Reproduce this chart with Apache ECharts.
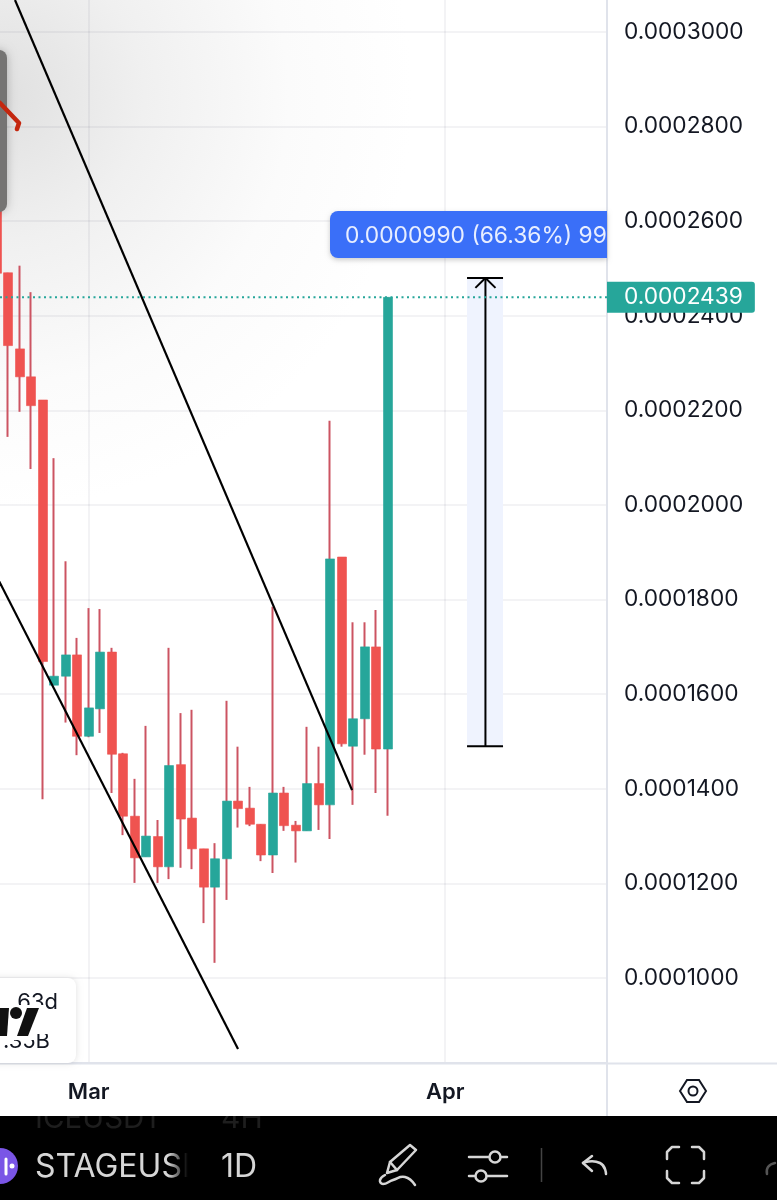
<!DOCTYPE html>
<html>
<head>
<meta charset="utf-8">
<title>STAGEUSDT 1D</title>
<script src="https://cdn.jsdelivr.net/npm/echarts@6/dist/echarts.min.js"></script>
<style>
	html,body{margin:0;padding:0;background:#fff;}
	#chart{width:777px;height:1200px;}
</style>
</head>
<body>
<div id="chart"></div>
<script>
var days = ['2025-02-21','2025-02-22','2025-02-23','2025-02-24','2025-02-25','2025-02-26','2025-02-27','2025-02-28',
	'2025-03-01','2025-03-02','2025-03-03','2025-03-04','2025-03-05','2025-03-06','2025-03-07','2025-03-08','2025-03-09',
	'2025-03-10','2025-03-11','2025-03-12','2025-03-13','2025-03-14','2025-03-15','2025-03-16','2025-03-17','2025-03-18',
	'2025-03-19','2025-03-20','2025-03-21','2025-03-22','2025-03-23','2025-03-24','2025-03-25','2025-03-26','2025-03-27'];
var opens = [0.0002750,0.0002491,0.0002330,0.0002271,0.0002222,0.0001619,0.0001638,0.0001683,0.0001511,0.0001569,0.0001689,0.0001474,
	0.0001342,0.0001256,0.0001299,0.0001235,0.0001451,0.0001338,0.0001273,0.0001192,0.0001252,0.0001374,0.0001359,0.0001325,
	0.0001260,0.0001391,0.0001323,0.0001311,0.0001411,0.0001366,0.0001890,0.0001490,0.0001548,0.0001700,0.0001484];
var closes = [0.0002490,0.0002337,0.0002271,0.0002210,0.0001669,0.0001638,0.0001683,0.0001511,0.0001571,0.0001689,0.0001473,0.0001342,
	0.0001254,0.0001300,0.0001235,0.0001449,0.0001336,0.0001273,0.0001192,0.0001252,0.0001374,0.0001358,0.0001325,0.0001260,
	0.0001391,0.0001322,0.0001311,0.0001411,0.0001366,0.0001886,0.0001495,0.0001548,0.0001700,0.0001484,0.0002439];
var highs = [0.0002800,0.0002491,0.0002506,0.0002450,0.0002222,0.0002099,0.0001881,0.0001719,0.0001782,0.0001780,0.0001698,0.0001476,
	0.0001421,0.0001533,0.0001334,0.0001698,0.0001560,0.0001567,0.0001273,0.0001285,0.0001586,0.0001489,0.0001404,0.0001325,
	0.0001785,0.0001404,0.0001332,0.0001531,0.0001489,0.0002178,0.0001890,0.0001752,0.0001752,0.0001778,0.0002439];
var lows = [0.0002470,0.0002144,0.0002197,0.0002076,0.0001378,0.0001619,0.0001540,0.0001471,0.0001509,0.0001518,0.0001391,0.0001302,
	0.0001201,0.0001256,0.0001201,0.0001209,0.0001233,0.0001230,0.0001116,0.0001032,0.0001165,0.0001318,0.0001321,0.0001247,
	0.0001222,0.0001311,0.0001244,0.0001311,0.0001313,0.0001294,0.0001489,0.0001366,0.0001472,0.0001391,0.0001343];
var priceTicks = [0.0001,0.00012,0.00014,0.00016,0.00018,0.0002,0.00022,0.00024,0.00026,0.00028,0.0003];
var monthTicks = ['2025-03-01','2025-04-01'];
var lastPrice = 0.0002439;
var upperChannel = [['2025-02-22 14:10',0.00030677],['2025-03-23 21:36',0.0001397]];
var lowerChannel = [['2025-02-21 00:00',0.0001849],['2025-03-13 23:40',0.0000850]];
var measureDays = ['2025-04-02 21:36','2025-04-04 12:00','2025-04-06 00:43'];
var measureHeadDays = ['2025-04-03 15:00','2025-04-05 09:00'];
var measurePrices = [0.0002480,0.0001490,0.0002459];

var GREEN = '#26a69a', RED = '#ef5350', WICK = '#cc5462', GRID = 'rgba(70,70,90,0.08)', AXIS = '#e0e3eb', TEXT = '#131722', ICON = '#d6d6d6';

// x axis runs in days, the time axis does not take customValues here
function ts(s){
	return (+new Date(s.replace(' ','T') + (s.length == 10 ? 'T00:00:00' : ':00')))/86400000;
}

var wickData = days.map(function(d,i){ return [ts(d),lows[i],highs[i],lows[i],highs[i]]; });
var bodyData = days.map(function(d,i){
	return [ts(d),opens[i],closes[i],Math.min(opens[i],closes[i]),Math.max(opens[i],closes[i])];
});
function toPoints(list){
	return list.map(function(p){ return [ts(p[0]),p[1]]; });
}
var L = ts(measureDays[0]), M = ts(measureDays[1]), R = ts(measureDays[2]);
var topP = measurePrices[0], baseP = measurePrices[1], headP = measurePrices[2];
var xMin = ts('2025-02-21 06:53'), xMax = ts('2025-04-15 01:41');

function bar(pts,color,width,extra){
	var o = {type:'polyline',z:20,shape:{points:pts},style:{fill:null,stroke:color,lineWidth:width,lineCap:'round',lineJoin:'round'}};
	if(extra){ o.shape.smooth = extra; }
	return o;
}
function label(x,y,text,size,color,weight,align){
	return {type:'text',z:30,x:x,y:y,style:{text:text,fill:color,font:(weight||400)+' '+size+'px Inter, sans-serif',textAlign:align||'left',textVerticalAlign:'middle'}};
}

var chart = echarts.init(document.getElementById('chart'),null,{renderer:'canvas'});
var option = {
	animation:false,
	backgroundColor:'#fff',
	grid:{
		left:0,top:0,width:607,height:1063,show:true,borderWidth:0,
		backgroundColor:new echarts.graphic.RadialGradient(0,0.09,0.68,[
			{offset:0,color:'#e0e0e0'},
			{offset:0.35,color:'#f0f0f0'},
			{offset:0.7,color:'#fbfbfb'},
			{offset:1,color:'#ffffff'}
		])
	},
	xAxis:{
		type:'value',
		min:xMin,
		max:xMax,
		axisLine:{show:true,onZero:false,lineStyle:{color:AXIS,width:2}},
		axisTick:{show:false,customValues:monthTicks.map(ts)},
		splitLine:{show:true,lineStyle:{color:GRID,width:1.5}},
		axisLabel:{
			customValues:monthTicks.map(ts),
			hideOverlap:false,showMinLabel:true,showMaxLabel:true,
			margin:18,color:TEXT,fontFamily:'Inter',fontSize:22,fontWeight:600,
			formatter:function(v){ return ['Jan','Feb','Mar','Apr'][new Date(v*86400000).getMonth()]; }
		}
	},
	yAxis:{
		type:'value',
		position:'right',
		min:0.00008202,
		max:0.00030677,
		axisLine:{show:true,onZero:false,lineStyle:{color:AXIS,width:2}},
		axisTick:{show:false,customValues:priceTicks},
		splitLine:{show:true,lineStyle:{color:GRID,width:1.5}},
		axisLabel:{
			customValues:priceTicks,
			margin:17,color:TEXT,fontFamily:'Inter',fontSize:22.7,lineHeight:28,padding:[4,0,0,0],
			formatter:function(v){ return v.toFixed(7); }
		}
	},
	series:[
		{
			name:'measure',type:'line',z:1,symbol:'none',silent:true,
			lineStyle:{color:'#000',width:2},
			data:[[L,topP],[R,topP],[M,topP],[M,baseP],[L,baseP],[R,baseP]],
			markArea:{silent:true,itemStyle:{color:'#eff3fe'},data:[[{coord:[L,topP]},{coord:[R,baseP]}]]}
		},
		{
			name:'measureHead',type:'line',z:1,symbol:'none',silent:true,
			lineStyle:{color:'#000',width:2},
			data:[[ts(measureHeadDays[0]),headP],[M,topP],[ts(measureHeadDays[1]),headP]]
		},
		{
			name:'wicks',type:'candlestick',z:2,barWidth:0.5,silent:true,encode:{x:0,y:[1,2,3,4]},
			itemStyle:{color:WICK,color0:WICK,borderColor:WICK,borderColor0:WICK,borderWidth:2},
			data:wickData
		},
		{
			name:'bodies',type:'candlestick',z:3,barWidth:9.5,silent:true,encode:{x:0,y:[1,2,3,4]},
			itemStyle:{color:GREEN,color0:RED,borderColor:GREEN,borderColor0:RED,borderWidth:0.6},
			data:bodyData
		},
		{name:'upper channel',type:'line',z:4,symbol:'none',silent:true,lineStyle:{color:'#000',width:2.2},data:toPoints(upperChannel)},
		{name:'lower channel',type:'line',z:4,symbol:'none',silent:true,lineStyle:{color:'#000',width:2.2},data:toPoints(lowerChannel)},
		{
			name:'last price',type:'line',z:5,symbol:'none',silent:true,
			lineStyle:{color:GREEN,type:[2,3.5],width:2},
			data:[[xMin,lastPrice],[xMax,lastPrice]],
			endLabel:{
				show:true,distance:0,formatter:function(){ return lastPrice.toFixed(7); },
				backgroundColor:GREEN,color:'#fff',fontFamily:'Inter',fontSize:22.7,
				padding:[5,12,3,17],borderRadius:[0,3,3,0]
			}
		}
	],
	graphic:[
		// chrome around the plot
		{type:'line',z:20,shape:{x1:0,y1:1063.5,x2:777,y2:1063.5},style:{stroke:AXIS,lineWidth:2}},
		{type:'line',z:20,shape:{x1:607,y1:1063,x2:607,y2:1116},style:{stroke:AXIS,lineWidth:2}},
		{type:'polygon',z:20,shape:{points:[[680,1091],[687,1080],[699,1080],[706,1091],[699,1102],[687,1102]]},style:{fill:null,stroke:TEXT,lineWidth:2}},
		{type:'circle',z:20,shape:{cx:693,cy:1091,r:4.5},style:{fill:null,stroke:TEXT,lineWidth:2}},
		// measure label
		{type:'rect',z:20,shape:{x:330,y:211,width:277,height:47,r:[8,0,0,8]},style:{fill:'#3a6ff8',shadowBlur:5,shadowColor:'rgba(0,0,0,0.2)',shadowOffsetY:2}},
		label(345,236,'0.0000990 (66.36%) 99',22.8,'#e8eeff'),
		// sticker top left
		{type:'rect',z:20,shape:{x:-20,y:50,width:27,height:162,r:8},style:{fill:'#757473',shadowBlur:10,shadowColor:'rgba(0,0,0,0.25)'}},
		bar([[0,103],[19,123],[17,129]],'#c4270f',4.5),
		// card bottom left
		{type:'rect',z:20,shape:{x:-20,y:978,width:96,height:85,r:8},style:{fill:'#fff',shadowBlur:6,shadowColor:'rgba(0,0,0,0.12)'}},
		label(58,1002,'63d',22,TEXT,400,'right'),
		label(50,1041,'.35B',22,TEXT,400,'right'),
		{type:'rect',z:31,shape:{x:0,y:1005,width:46,height:6},style:{fill:'#fff'}},
		{type:'rect',z:31,shape:{x:0,y:1011,width:60,height:23},style:{fill:'#fff'}},
		{type:'rect',z:31,shape:{x:0,y:1034,width:36,height:6},style:{fill:'#fff'}},
		{type:'polygon',z:32,shape:{points:[[27,1008],[39,1008],[28,1036],[17,1036]]},style:{fill:'#111'}},
		{type:'polygon',z:32,shape:{points:[[0,1008],[9,1008],[7,1036],[0,1036]]},style:{fill:'#111'}},
		{type:'circle',z:32,shape:{cx:16,cy:1013,r:6},style:{fill:'#111'}},
		// black toolbar
		{type:'rect',z:40,shape:{x:0,y:1116,width:777,height:84},style:{fill:'#000'}},
		{type:'text',z:41,x:35,y:1119,style:{text:'ICEUSDT',fill:'#1e1e1e',font:'400 29.5px Inter, sans-serif',textVerticalAlign:'middle'}},
		{type:'text',z:41,x:221,y:1119,style:{text:'4H',fill:'#1e1e1e',font:'400 30px Inter, sans-serif',textVerticalAlign:'middle'}},
		{type:'rect',z:42,shape:{x:0,y:1102,width:300,height:14},style:{fill:'#fff'}},
		{type:'circle',z:41,shape:{cx:0,cy:1166,r:18},style:{fill:'#7a55e6'}},
		{type:'line',z:42,shape:{x1:6,y1:1159,x2:6,y2:1174},style:{stroke:'#fff',lineWidth:3,lineCap:'round'}},
		{type:'circle',z:42,shape:{cx:12,cy:1166,r:2.5},style:{fill:'#fff'}},
		{type:'text',z:41,x:35,y:1167,style:{text:'STAGEUSDT',fill:ICON,font:'400 32px Inter, sans-serif',textVerticalAlign:'middle'}},
		{type:'rect',z:42,shape:{x:168,y:1140,width:22,height:50},style:{fill:new echarts.graphic.LinearGradient(0,0,1,0,[{offset:0,color:'rgba(0,0,0,0)'},{offset:0.9,color:'#000'},{offset:1,color:'#000'}])}},
		{type:'rect',z:42,shape:{x:190,y:1140,width:100,height:50},style:{fill:'#000'}},
		{type:'text',z:43,x:221,y:1167,style:{text:'1D',fill:ICON,font:'400 32px Inter, sans-serif',textVerticalAlign:'middle'}},
		// toolbar icons
		Object.assign(bar([[387,1173],[390,1162],[410,1145],[416,1150],[397,1170],[387,1173]],ICON,2.5),{z:41}),
		Object.assign(bar([[390,1162],[397,1170]],ICON,2.5),{z:41}),
		Object.assign(bar([[385,1175],[380,1180],[383,1184],[393,1180],[405,1177],[415,1185]],ICON,2.5,0.5),{z:41}),
		Object.assign(bar([[469,1157],[489,1157]],ICON,2.5),{z:41}),
		Object.assign(bar([[501,1157],[507,1157]],ICON,2.5),{z:41}),
		{type:'circle',z:41,shape:{cx:495,cy:1157,r:5.5},style:{fill:null,stroke:ICON,lineWidth:2.5}},
		Object.assign(bar([[469,1176],[475,1176]],ICON,2.5),{z:41}),
		Object.assign(bar([[487,1176],[507,1176]],ICON,2.5),{z:41}),
		{type:'circle',z:41,shape:{cx:481,cy:1176,r:5.5},style:{fill:null,stroke:ICON,lineWidth:2.5}},
		{type:'line',z:41,shape:{x1:541.5,y1:1148,x2:541.5,y2:1182},style:{stroke:'#444',lineWidth:1.5}},
		Object.assign(bar([[592,1156],[583,1163],[592,1171]],ICON,2.5),{z:41}),
		Object.assign(bar([[583,1163],[600,1163],[606,1174]],ICON,2.5,0.6),{z:41}),
		Object.assign(bar([[667,1159],[667,1152],[672,1147],[679,1147]],ICON,2.5),{z:41}),
		Object.assign(bar([[692,1147],[699,1147],[704,1152],[704,1159]],ICON,2.5),{z:41}),
		Object.assign(bar([[667,1171],[667,1178],[672,1183],[679,1183]],ICON,2.5),{z:41}),
		Object.assign(bar([[692,1183],[699,1183],[704,1178],[704,1171]],ICON,2.5),{z:41}),
		Object.assign(bar([[767,1174],[768,1167],[775,1163]],'#555',2.5,0.5),{z:41})
	]
};
chart.setOption(option);
</script>
</body>
</html>
